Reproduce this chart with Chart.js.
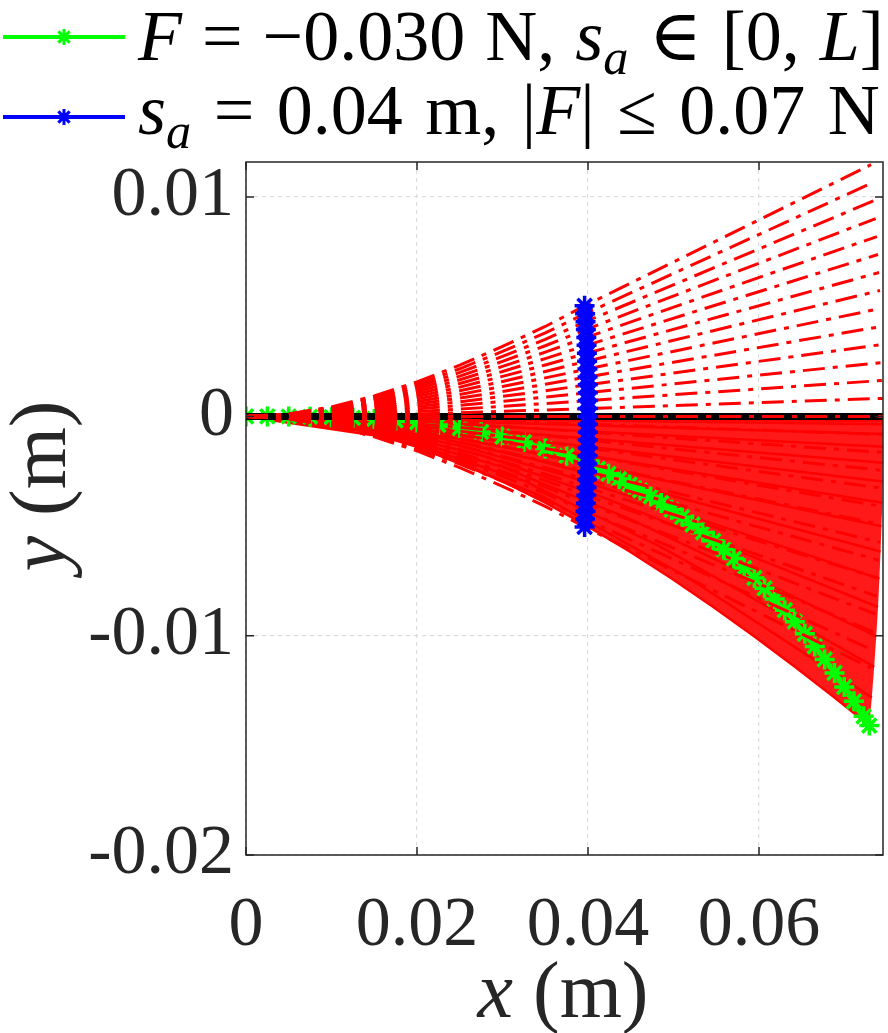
<!doctype html>
<html>
<head>
<meta charset="utf-8">
<title>Cantilever deflection</title>
<script src="https://cdn.jsdelivr.net/npm/chart.js"></script>
<style>
  body { margin: 0; background: #fff; }
  #wrap { position: relative; width: 888px; height: 1033px; font-family: "Liberation Serif", "DejaVu Serif", serif; }
  #wrap canvas { position: absolute; left: 0; top: 0; }
  .leg { position: absolute; left: 138px; font-size: 72px; line-height: 72px; white-space: nowrap; color: #000; }
  .leg sub { font-size: 0.7em; vertical-align: -0.28em; line-height: 0; }
  .axt { position: absolute; font-size: 80px; line-height: 80px; white-space: nowrap; color: #262626; text-align: center; width: 260px; }
</style>
</head>
<body>
<div id="wrap">
  <canvas id="beam" width="888" height="1033"></canvas>
  <div class="leg" style="top:0px; word-spacing:2px"><i>F</i> = −0.030 N, <i>s<sub>a</sub></i> ∈ [0, <i>L</i>]</div>
  <div class="leg" style="top:74px; word-spacing:4.5px"><i>s<sub>a</sub></i> = 0.04 m, |<i>F</i>| ≤ 0.07 N</div>
  <div class="axt" style="left:433px; top:950px"><i>x</i> (m)</div>
  <div class="axt" style="left:-92px; top:446px; transform: rotate(-90deg)"><i>y</i> (m)</div>
</div>

<script>
// axes
const xTicks = [0, 0.02, 0.04, 0.06];
const xTickLabels = ['0', '0.02', '0.04', '0.06'];
const yTicks = [-0.02, -0.01, 0, 0.01];
const yTickLabels = ['-0.02', '-0.01', '0', '0.01'];

// s_a = 0.04 m, F = ±0.005 ... ±0.070 N (dash-dot family), bending part sampled on dashX
const dashX = [0, 0.005, 0.01, 0.015, 0.02, 0.025, 0.03, 0.035];
const dashUpY = [
  [0, 8.1e-6, 3.09e-5, 6.65e-5, 1.125e-4, 1.67e-4, 2.28e-4, 2.93e-4],
  [0, 1.62e-5, 6.18e-5, 1.33e-4, 2.25e-4, 3.34e-4, 4.56e-4, 5.86e-4],
  [0, 2.43e-5, 9.28e-5, 1.99e-4, 3.38e-4, 5.01e-4, 6.83e-4, 8.79e-4],
  [0, 3.24e-5, 1.24e-4, 2.66e-4, 4.5e-4, 6.68e-4, 9.11e-4, 1.171e-3],
  [0, 4.05e-5, 1.55e-4, 3.32e-4, 5.63e-4, 8.35e-4, 1.139e-3, 1.464e-3],
  [0, 4.86e-5, 1.86e-4, 3.99e-4, 6.75e-4, 1.002e-3, 1.367e-3, 1.757e-3],
  [0, 5.67e-5, 2.16e-4, 4.65e-4, 7.88e-4, 1.169e-3, 1.595e-3, 2.05e-3],
  [0, 6.48e-5, 2.47e-4, 5.32e-4, 9e-4, 1.336e-3, 1.823e-3, 2.343e-3],
  [0, 7.29e-5, 2.78e-4, 5.98e-4, 1.013e-3, 1.503e-3, 2.05e-3, 2.636e-3],
  [0, 8.1e-5, 3.09e-4, 6.65e-4, 1.125e-3, 1.67e-3, 2.278e-3, 2.929e-3],
  [0, 8.91e-5, 3.4e-4, 7.31e-4, 1.238e-3, 1.837e-3, 2.506e-3, 3.222e-3],
  [0, 9.72e-5, 3.71e-4, 7.98e-4, 1.35e-3, 2.004e-3, 2.734e-3, 3.514e-3],
  [0, 1.053e-4, 4.02e-4, 8.64e-4, 1.463e-3, 2.171e-3, 2.962e-3, 3.807e-3],
  [0, 1.134e-4, 4.33e-4, 9.3e-4, 1.575e-3, 2.338e-3, 3.189e-3, 4.1e-3]
];
const dashDownY = [
  [0, -8.1e-6, -3.09e-5, -6.65e-5, -1.125e-4, -1.67e-4, -2.28e-4, -2.93e-4],
  [0, -1.62e-5, -6.18e-5, -1.33e-4, -2.25e-4, -3.34e-4, -4.56e-4, -5.86e-4],
  [0, -2.43e-5, -9.28e-5, -1.99e-4, -3.38e-4, -5.01e-4, -6.83e-4, -8.79e-4],
  [0, -3.24e-5, -1.24e-4, -2.66e-4, -4.5e-4, -6.68e-4, -9.11e-4, -1.171e-3],
  [0, -4.05e-5, -1.55e-4, -3.32e-4, -5.63e-4, -8.35e-4, -1.139e-3, -1.464e-3],
  [0, -4.86e-5, -1.86e-4, -3.99e-4, -6.75e-4, -1.002e-3, -1.367e-3, -1.757e-3],
  [0, -5.67e-5, -2.16e-4, -4.65e-4, -7.88e-4, -1.169e-3, -1.595e-3, -2.05e-3],
  [0, -6.48e-5, -2.47e-4, -5.32e-4, -9e-4, -1.336e-3, -1.823e-3, -2.343e-3],
  [0, -7.29e-5, -2.78e-4, -5.98e-4, -1.013e-3, -1.503e-3, -2.05e-3, -2.636e-3],
  [0, -8.1e-5, -3.09e-4, -6.65e-4, -1.125e-3, -1.67e-3, -2.278e-3, -2.929e-3],
  [0, -8.91e-5, -3.4e-4, -7.31e-4, -1.238e-3, -1.837e-3, -2.506e-3, -3.222e-3],
  [0, -9.72e-5, -3.71e-4, -7.98e-4, -1.35e-3, -2.004e-3, -2.734e-3, -3.514e-3],
  [0, -1.053e-4, -4.02e-4, -8.64e-4, -1.463e-3, -2.171e-3, -2.962e-3, -3.807e-3],
  [0, -1.134e-4, -4.33e-4, -9.3e-4, -1.575e-3, -2.338e-3, -3.189e-3, -4.1e-3]
];
const dashLoadX = [0.04, 0.03999, 0.03998, 0.03997, 0.03995, 0.03993, 0.0399, 0.03987, 0.03983, 0.0398, 0.03975, 0.03971, 0.03966, 0.0396];
const dashUpLoadY = [3.6e-4, 7.2e-4, 1.08e-3, 1.44e-3, 1.8e-3, 2.16e-3, 2.52e-3, 2.88e-3, 3.24e-3, 3.6e-3, 3.96e-3, 4.32e-3, 4.68e-3, 5.04e-3];
const dashDownLoadY = [-3.6e-4, -7.2e-4, -1.08e-3, -1.44e-3, -1.8e-3, -2.16e-3, -2.52e-3, -2.88e-3, -3.24e-3, -3.6e-3, -3.96e-3, -4.32e-3, -4.68e-3, -5.04e-3];
const dashTipX = [0.07449, 0.07447, 0.07444, 0.07439, 0.07432, 0.07424, 0.07415, 0.07404, 0.07392, 0.07379, 0.07364, 0.07347, 0.07329, 0.0731];
const dashUpTipY = [8.2e-4, 1.64e-3, 2.46e-3, 3.28e-3, 4.1e-3, 4.92e-3, 5.74e-3, 6.56e-3, 7.38e-3, 8.2e-3, 9.02e-3, 9.84e-3, 1.066e-2, 1.148e-2];
const dashDownTipY = [-8.2e-4, -1.64e-3, -2.46e-3, -3.28e-3, -4.1e-3, -4.92e-3, -5.74e-3, -6.56e-3, -7.38e-3, -8.2e-3, -9.02e-3, -9.84e-3, -1.066e-2, -1.148e-2];
const zeroX = [0, 0.04, 0.0745];
const zeroY = [0, 0, 0];

// F = -0.030 N, load point s_a moved along the beam (solid family)
const solidX = [
  [0, 0.0025, 0.0745],
  [0, 0.0025, 0.005, 0.0745],
  [0, 0.00375, 0.0075, 0.0745],
  [0, 0.0025, 0.005, 0.0075, 0.01, 0.0745],
  [0, 0.00375, 0.0075, 0.01125, 0.015, 0.0745],
  [0, 0.005, 0.01, 0.015, 0.02, 0.07449],
  [0, 0.00625, 0.0125, 0.01875, 0.025, 0.07447],
  [0, 0.0075, 0.015, 0.0225, 0.03, 0.07444],
  [0, 0.00875, 0.0175, 0.02625, 0.035, 0.07439],
  [0, 0.01, 0.02, 0.03, 0.0399, 0.07431],
  [0, 0.01125, 0.0225, 0.03375, 0.04487, 0.07421],
  [0, 0.0125, 0.025, 0.0374, 0.04978, 0.07408],
  [0, 0.01375, 0.0275, 0.0411, 0.05465, 0.07392],
  [0, 0.015, 0.02995, 0.0448, 0.05946, 0.07371],
  [0, 0.01625, 0.03245, 0.0484, 0.06419, 0.07347],
  [0, 0.0175, 0.03475, 0.0519, 0.06883, 0.07319]
];
const solidY = [
  [0, -5e-7, -2.4e-5],
  [0, -1.3e-6, -4.3e-6, -9.3e-5],
  [0, -4.5e-6, -1.44e-5, -2.07e-4],
  [0, -2.9e-6, -1.07e-5, -2.16e-5, -3.41e-5, -3.64e-4],
  [0, -9.9e-6, -3.6e-5, -7.28e-5, -1.151e-4, -8.0e-4],
  [0, -2.34e-5, -8.53e-5, -1.726e-4, -2.728e-4, -1.388e-3],
  [0, -4.58e-5, -1.665e-4, -3.372e-4, -5.328e-4, -2.115e-3],
  [0, -7.91e-5, -2.877e-4, -5.826e-4, -9.207e-4, -2.969e-3],
  [0, -1.256e-4, -4.569e-4, -9.251e-4, -1.462e-3, -3.937e-3],
  [0, -1.875e-4, -6.82e-4, -1.381e-3, -2.182e-3, -5.006e-3],
  [0, -2.669e-4, -9.71e-4, -1.966e-3, -3.107e-3, -6.163e-3],
  [0, -3.662e-4, -1.332e-3, -2.698e-3, -4.263e-3, -7.395e-3],
  [0, -4.873e-4, -1.773e-3, -3.59e-3, -5.673e-3, -8.691e-3],
  [0, -6.327e-4, -2.302e-3, -4.661e-3, -7.366e-3, -1.0036e-2],
  [0, -8.04e-4, -2.927e-3, -5.926e-3, -9.365e-3, -1.1418e-2],
  [0, -1.005e-3, -3.655e-3, -7.401e-3, -1.1696e-2, -1.2824e-2]
];
// s_a = L : the lowest curve, bounding the red band
const edgeX = [0, 0.005, 0.01, 0.015, 0.02, 0.025, 0.03, 0.035, 0.03993, 0.04487, 0.04978, 0.05465, 0.05946, 0.06419, 0.06883, 0.0729];
const edgeY = [0, -9.3e-5, -3.64e-4, -8.0e-4, -1.388e-3, -2.115e-3, -2.969e-3, -3.937e-3, -5.006e-3, -6.163e-3, -7.395e-3, -8.691e-3, -1.0036e-2, -1.1418e-2, -1.2824e-2, -1.41e-2];

// load point positions for F = -0.030 N
const greenX = [0, 0.0025, 0.005, 0.0075, 0.01, 0.0125, 0.015, 0.0175, 0.02, 0.0225, 0.025, 0.0275, 0.03, 0.0325, 0.035, 0.0375, 0.0399,
  0.04117, 0.0424, 0.04364, 0.04487, 0.0461, 0.04733, 0.04856, 0.04978, 0.051, 0.05222, 0.05344, 0.05465, 0.05586, 0.05706,
  0.05826, 0.05946, 0.06065, 0.06184, 0.06302, 0.06419, 0.06536, 0.06652, 0.06768, 0.06883, 0.06997, 0.0711, 0.07223, 0.0729];
const greenY = [0, -5e-7, -4.3e-6, -1.44e-5, -3.41e-5, -6.66e-5, -1.151e-4, -1.828e-4, -2.728e-4, -3.884e-4, -5.328e-4, -7.092e-4, -9.207e-4, -1.1706e-3, -1.462e-3, -1.7982e-3, -2.1824e-3,
  -2.3935e-3, -2.6177e-3, -2.8555e-3, -3.1074e-3, -3.3736e-3, -3.6546e-3, -3.9507e-3, -4.2625e-3, -4.5903e-3, -4.9344e-3, -5.2952e-3, -5.6734e-3, -6.0691e-3, -6.4827e-3,
  -6.9148e-3, -7.3656e-3, -7.8356e-3, -8.3252e-3, -8.8348e-3, -9.3647e-3, -9.9154e-3, -1.04874e-2, -1.10808e-2, -1.16963e-2, -1.23341e-2, -1.29948e-2, -1.36785e-2, -1.41e-2];

// undeformed beam
const beamX = [0, 0.0745];
const beamY = [0, 0];

const RED = '#ff0000';
const FONT = '"Liberation Serif", "DejaVu Serif", serif';

function pts(xs, ys) {
  return xs.map((x, i) => ({ x: x, y: ys[i] }));
}

function line(data, color, width, order, extra) {
  return Object.assign({
    data: data, showLine: true, borderColor: color, backgroundColor: color,
    borderWidth: width, pointRadius: 0, fill: false, order: order
  }, extra || {});
}

const datasets = [];

// red band behind the solid curves: top solid curve, the tips, then the lowest curve back to the root
const bandTop = pts(solidX[2], solidY[2]);
const bandTips = solidX.slice(3).map((row, i) => ({ x: row[row.length - 1], y: solidY[i + 3][row.length - 1] }));
const bandLow = pts(edgeX, edgeY).reverse();
datasets.push(line(bandTop.concat(bandTips, bandLow), 'rgba(0,0,0,0)', 0, 6,
  { fill: 'shape', backgroundColor: 'rgba(255,0,0,0.9)' }));

solidX.forEach((row, i) => datasets.push(line(pts(row, solidY[i]), RED, 2.5, 5)));
datasets.push(line(pts(edgeX, edgeY), RED, 2.5, 5));

datasets.push(line(pts(greenX, greenY), '#00ff00', 4, 4,
  { pointRadius: 10, pointStyle: 'star', pointBorderWidth: 3.5, pointBorderColor: '#00ff00' }));

datasets.push(line(pts(beamX, beamY), '#000000', 7, 3));

const dashStyle = { borderDash: [22, 8, 5, 8] };
datasets.push(line(pts(zeroX, zeroY), RED, 3, 2, dashStyle));
dashUpY.forEach((row, i) => {
  datasets.push(line(pts(dashX.concat([dashLoadX[i], dashTipX[i]]), row.concat([dashUpLoadY[i], dashUpTipY[i]])), RED, 3, 2, dashStyle));
  datasets.push(line(pts(dashX.concat([dashLoadX[i], dashTipX[i]]), dashDownY[i].concat([dashDownLoadY[i], dashDownTipY[i]])), RED, 3, 2, dashStyle));
});

// load points for s_a = 0.04 m
const blueX = dashLoadX.slice().reverse().concat([0.04], dashLoadX);
const blueY = dashDownLoadY.slice().reverse().concat([0], dashUpLoadY);
datasets.push(line(pts(blueX, blueY), '#0000ff', 4, 1,
  { pointRadius: 10, pointStyle: 'star', pointBorderWidth: 3.5, pointBorderColor: '#0000ff' }));

const framePlugin = {
  id: 'frame',
  afterDatasetsDraw(chart) {
    const { ctx, chartArea: a, scales: { x, y } } = chart;
    ctx.save();
    ctx.strokeStyle = '#262626';
    ctx.lineWidth = 1.5;
    ctx.strokeRect(a.left, a.top, a.right - a.left, a.bottom - a.top);
    ctx.beginPath();
    xTicks.forEach(v => {
      const px = x.getPixelForValue(v);
      ctx.moveTo(px, a.bottom); ctx.lineTo(px, a.bottom - 8);
      ctx.moveTo(px, a.top); ctx.lineTo(px, a.top + 8);
    });
    yTicks.forEach(v => {
      const py = y.getPixelForValue(v);
      ctx.moveTo(a.left, py); ctx.lineTo(a.left + 8, py);
      ctx.moveTo(a.right, py); ctx.lineTo(a.right - 8, py);
    });
    ctx.stroke();
    ctx.restore();
  },
  afterDraw(chart) {
    // legend samples
    const ctx = chart.ctx;
    [['#00ff00', 37], ['#0000ff', 117]].forEach(([c, yy]) => {
      ctx.save();
      ctx.strokeStyle = c; ctx.fillStyle = c; ctx.lineWidth = 4;
      ctx.beginPath(); ctx.moveTo(3, yy); ctx.lineTo(125, yy); ctx.stroke();
      ctx.lineWidth = 3;
      Chart.helpers.drawPoint(ctx, { pointStyle: 'star', radius: 8, borderWidth: 3, rotation: 0 }, 64, yy);
      ctx.restore();
    });
  }
};

new Chart(document.getElementById('beam'), {
  type: 'scatter',
  data: { datasets: datasets },
  options: {
    responsive: false,
    animation: false,
    devicePixelRatio: 1,
    layout: { autoPadding: false, padding: { top: 162, right: 5, left: 0, bottom: 0 } },
    plugins: { legend: { display: false }, tooltip: { enabled: false } },
    elements: { line: { tension: 0 } },
    scales: {
      x: {
        type: 'linear', min: 0, max: 0.0745,
        afterBuildTicks: s => { s.ticks = xTicks.map(v => ({ value: v })); },
        afterFit: s => { s.height = 178; s.paddingLeft = 0; s.paddingRight = 0; },
        grid: { color: '#dcdcdc', lineWidth: 1.2, drawTicks: false },
        border: { display: false, dash: [4, 4] },
        ticks: {
          padding: 30, color: '#262626', maxRotation: 0, autoSkip: false,
          font: { family: FONT, size: 70 },
          callback: (v, i) => xTickLabels[i]
        }
      },
      y: {
        type: 'linear', min: -0.02, max: 0.0116,
        afterBuildTicks: s => { s.ticks = yTicks.map(v => ({ value: v })); },
        afterFit: s => { s.width = 246; s.paddingTop = 0; s.paddingBottom = 0; },
        grid: { color: '#dcdcdc', lineWidth: 1.2, drawTicks: false },
        border: { display: false, dash: [4, 4] },
        ticks: {
          padding: 12, color: '#262626', autoSkip: false,
          font: { family: FONT, size: 70 },
          callback: (v, i) => yTickLabels[i]
        }
      }
    }
  },
  plugins: [framePlugin]
});
</script>
</body>
</html>
